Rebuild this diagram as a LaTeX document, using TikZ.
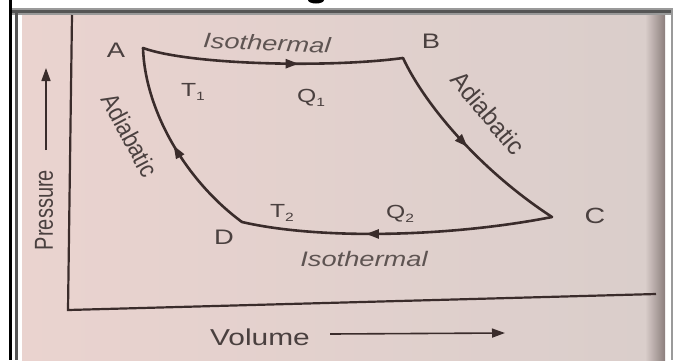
\documentclass[tikz,border=0pt]{standalone}
\usepackage{fontspec}
\setmainfont{Liberation Sans}
\usetikzlibrary{arrows.meta,decorations.markings}
\definecolor{ink}{HTML}{3A2C2B}
\definecolor{txt}{HTML}{4A403F}
\definecolor{txtlight}{HTML}{5E5452}
\definecolor{paperL}{HTML}{EAD3CF}
\definecolor{paperM}{HTML}{E8DBD7}
\definecolor{paperR}{HTML}{DACECB}
\definecolor{shadow}{HTML}{8C7F7D}
\definecolor{frameA}{HTML}{9A9A9A}
\definecolor{frameB}{HTML}{555555}
\tikzset{
  curve/.style={draw=ink, line width=2.6pt, line cap=round, line join=round},
  axis/.style={draw=ink, line width=2.2pt, line join=miter},
  midarrow/.style={postaction={decorate}, decoration={markings,
      mark=at position #1 with {\arrow{Triangle[length=13pt,width=9pt]}}}},
  axisarrow/.style={draw=ink, line width=1.6pt, -{Triangle[length=13pt,width=9pt]}},
  rlabel/.style={inner sep=0pt, text=txt},
}
% horizontal labels, stretched sideways like the photo
\newcommand\plbl[7]{%
  \begin{scope}[shift={(#2,#3)},xscale=1.3]
    \node[transform shape,rotate=#4,inner sep=0pt,text=#6,
          font=\fontsize{#5}{#5}\selectfont] (#1) at (0,0) {#7};
  \end{scope}}
\newcommand\sub[1]{\raisebox{-0.35ex}{\fontsize{12}{12}\selectfont #1}}
\begin{document}
\begin{tikzpicture}[x=1pt,y=-1pt]
\useasboundingbox (0,0) rectangle (676,360);
\fill[white] (0,0) rectangle (676,360);
% photo background
\shade[left color=paperL, middle color=paperM, right color=paperR] (22,15) rectangle (646,360);
\shade[left color=paperR, right color=shadow] (645,15) rectangle (665,360);
% frame
\fill[black] (9,0) rectangle (12,360);
\fill[frameA] (12,8) rectangle (673,15);
\fill[frameB] (12,10) rectangle (673,12.5);
\fill[frameB] (14.5,12) rectangle (18,360);
\fill[frameA] (670.5,8) rectangle (673,360);
\fill[black] (316,0) ellipse (8 and 3.5);

% axes
\coordinate (ytop) at (72,15);
\coordinate (O) at (68,310);
\coordinate (xend) at (656,294);
\draw[axis] (ytop) -- (O) -- (xend);

% cycle corners
\coordinate (A) at (143,48);
\coordinate (B) at (403,58);
\coordinate (C) at (552,217);
\coordinate (D) at (242,222);
\draw[curve, midarrow=0.6] (A) .. controls (190,65) and (330,68) .. (B);
\draw[curve, midarrow=0.5] (B) .. controls (425,105) and (480,170) .. (C);
\draw[curve, midarrow=0.6] (C) .. controls (450,237) and (320,240) .. (D);
\draw[curve, midarrow=0.5] (D) .. controls (185,180) and (145,110) .. (A);

% point labels
\plbl{lA}{116}{50}{0}{21}{txt}{A}
\plbl{lB}{431}{41}{0}{21}{txt}{B}
\plbl{lC}{595}{216}{0}{22}{txt}{C}
\plbl{lD}{224}{237}{0}{21}{txt}{D}
% temperatures and heats
\plbl{lT1}{193}{92}{0}{19}{txt}{T\sub{1}}
\plbl{lQ1}{311}{98}{0}{19}{txt}{Q\sub{1}}
\plbl{lT2}{282}{213}{0}{19}{txt}{T\sub{2}}
\plbl{lQ2}{400}{214}{0}{19}{txt}{Q\sub{2}}
% process labels
\plbl{iso1}{267}{43}{-3}{21}{txtlight}{\itshape Isothermal}
\plbl{iso2}{364}{259}{0}{21}{txtlight}{\itshape Isothermal}
\node[rlabel, rotate=-62, font=\fontsize{21}{21}\selectfont] (ad1) at (130,135)
  {\scalebox{1.05}[1.2]{Adiabatic}};
\node[rlabel, rotate=-50, font=\fontsize{22}{22}\selectfont] (ad2) at (488,113)
  {\scalebox{1.1}[1.15]{Adiabatic}};
% axis labels
\node[rlabel, rotate=90, font=\fontsize{20}{20}\selectfont] (pres) at (44,210)
  {\scalebox{1}[1.3]{Pressure}};
\plbl{vol}{260}{337}{0}{23}{txt}{Volume}
\coordinate (pa1) at (46,150);
\coordinate (pa2) at (46,68);
\draw[axisarrow] (pa1) -- (pa2);
\coordinate (va1) at (330,334);
\coordinate (va2) at (505,333);
\draw[axisarrow] (va1) -- (va2);
\end{tikzpicture}
\end{document}
